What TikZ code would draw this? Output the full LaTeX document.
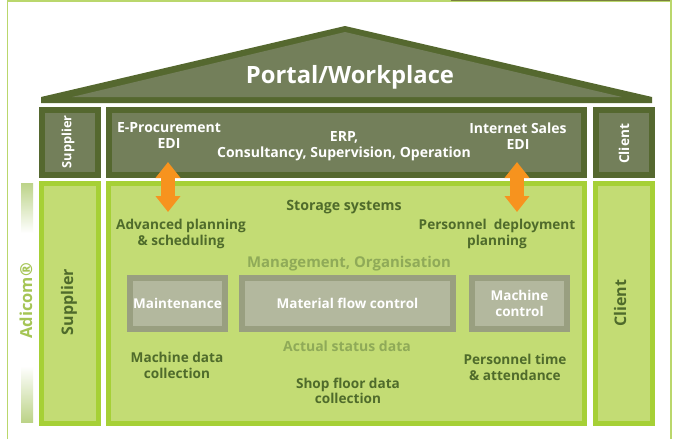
\documentclass[tikz,border=0pt]{standalone}
\usepackage{fontspec}
\setmainfont{Open Sans}
\usetikzlibrary{arrows.meta}
\definecolor{lime}{HTML}{A6D036}
\definecolor{limefill}{HTML}{C3DC74}
\definecolor{framegreen}{HTML}{BAD76C}
\definecolor{dkgreen}{HTML}{55682F}
\definecolor{olive}{HTML}{737F5A}
\definecolor{textgreen}{HTML}{4F6B2B}
\definecolor{mutegreen}{HTML}{8FAA58}
\definecolor{adicomgreen}{HTML}{A5C555}
\definecolor{greyedge}{HTML}{999F80}
\definecolor{greyfill}{HTML}{B3B89E}
\definecolor{orangearrow}{HTML}{F7931E}
\definecolor{paleband}{HTML}{BCD388}
\definecolor{stripe}{HTML}{7A7F3E}
\tikzset{
  x=1pt,y=-1pt,
  topbox/.style={draw=dkgreen,line width=6pt,fill=olive,inner sep=0pt,outer sep=0pt},
  lowbox/.style={draw=lime,line width=5pt,fill=limefill,inner sep=0pt,outer sep=0pt},
  greybox/.style={draw=greyedge,line width=6pt,fill=greyfill,inner sep=0pt,outer sep=0pt,text=white,font=\bfseries\fontsize{13.5}{16}\selectfont,align=center},
  wtext/.style={text=white,font=\bfseries\fontsize{14}{16}\selectfont,align=center,inner sep=0pt},
  gtext/.style={text=textgreen,font=\bfseries\fontsize{13.6}{15.5}\selectfont,align=center,inner sep=0pt},
  mtext/.style={text=mutegreen,font=\bfseries\fontsize{14}{15}\selectfont,align=center,inner sep=0pt},
  dblarrow/.style={draw=orangearrow,line width=14pt,{Triangle[length=16pt,width=24pt]}-{Triangle[length=16pt,width=24pt]}},
}
\begin{document}
\begin{tikzpicture}
\useasboundingbox (0,0) rectangle (677,439);
\fill[white] (0,0) rectangle (677,439);
% frame
\draw[framegreen,line width=1.6pt] (7.6,439) -- (7.6,0.8) -- (671,0.8) -- (671,439);
\fill[stripe] (451,0) rectangle (670,1);
% Adicom bands
\shade[top color=paleband,bottom color=white] (21,183) rectangle (33,233);
\shade[top color=white,bottom color=paleband] (21,366) rectangle (33,422);
% roof
\fill[dkgreen] (41,97) -- (345,26) -- (652,97) -- (652,103) -- (41,103) -- cycle;
\fill[olive] (72,97) -- (345,32) -- (622,97) -- cycle;
\node[text=white,font=\bfseries\fontsize{23.8}{26}\selectfont,inner sep=0pt] (portal) at (350,77) {Portal/Workplace};
% top row
\node[topbox,minimum width=56pt,minimum height=65pt] (supTop) at (70,142.5) {};
\node[topbox,minimum width=475pt,minimum height=65pt] (erpBox) at (346.5,142.5) {};
\node[topbox,minimum width=56pt,minimum height=65pt] (cliTop) at (624,142.5) {};
% lower row
\node[lowbox,minimum width=57pt,minimum height=240pt] (supLow) at (70,303.5) {};
\node[lowbox,minimum width=476pt,minimum height=240pt] (mainLow) at (346.5,303.5) {};
\node[lowbox,minimum width=57pt,minimum height=240pt] (cliLow) at (624,303.5) {};
% grey boxes
\node[greybox,minimum width=95pt,minimum height=51pt] (maint) at (177.5,303.5) {Maintenance};
\node[greybox,minimum width=211pt,minimum height=51pt] (flow) at (347.5,303.5) {Material flow control};
\node[greybox,minimum width=95pt,minimum height=51pt] (mach) at (519.5,303.5) {Machine\\control};
% arrows
\coordinate (arrAtop) at (168,162);
\coordinate (arrAbot) at (168,212);
\coordinate (arrBtop) at (517,162);
\coordinate (arrBbot) at (517,212);
\draw[dblarrow] (arrAtop) -- (arrAbot);
\draw[dblarrow] (arrBtop) -- (arrBbot);
% vertical labels
\node[rotate=90,text=white,font=\bfseries\fontsize{12.8}{14}\selectfont,inner sep=0pt] (tSupTop) at (68,142) {Supplier};
\node[rotate=90,text=white,font=\bfseries\fontsize{13.6}{15}\selectfont,inner sep=0pt] (tCliTop) at (624,144) {Client};
\node[rotate=90,text=textgreen,font=\bfseries\fontsize{16}{18}\selectfont,inner sep=0pt] (tSupLow) at (69,302) {Supplier};
\node[rotate=90,text=textgreen,font=\bfseries\fontsize{16}{18}\selectfont,inner sep=0pt] (tCliLow) at (620,303) {Client};
\node[rotate=90,text=adicomgreen,font=\bfseries\fontsize{16.5}{18}\selectfont,inner sep=0pt] (tAdicom) at (26,301) {Adicom®};
% top text
\node[wtext] (tEproc) at (169,136) {E-Procurement\\EDI};
\node[wtext] (tErp) at (344,146.5) {ERP,\\Consultancy, Supervision, Operation};
\node[wtext] (tSales) at (518,136) {Internet Sales\\EDI};
% lower text
\node[gtext,font=\bfseries\fontsize{14.2}{16}\selectfont] (tStorage) at (344,207) {Storage systems};
\node[gtext] (tAdv) at (181,234) {Advanced planning\\\& scheduling};
\node[gtext] (tPers) at (497,234) {Personnel\ \ deployment\\planning};
\node[mtext,font=\bfseries\fontsize{14.9}{16}\selectfont] (tMgmt) at (349,264) {Management, Organisation};
\node[mtext] (tActual) at (347,346) {Actual status data};
\node[gtext] (tMdc) at (177,365.5) {Machine data\\collection};
\node[gtext] (tTime) at (515,367.5) {Personnel time\\\& attendance};
\node[gtext] (tShop) at (348,391) {Shop floor data\\collection};
\end{tikzpicture}
\end{document}
